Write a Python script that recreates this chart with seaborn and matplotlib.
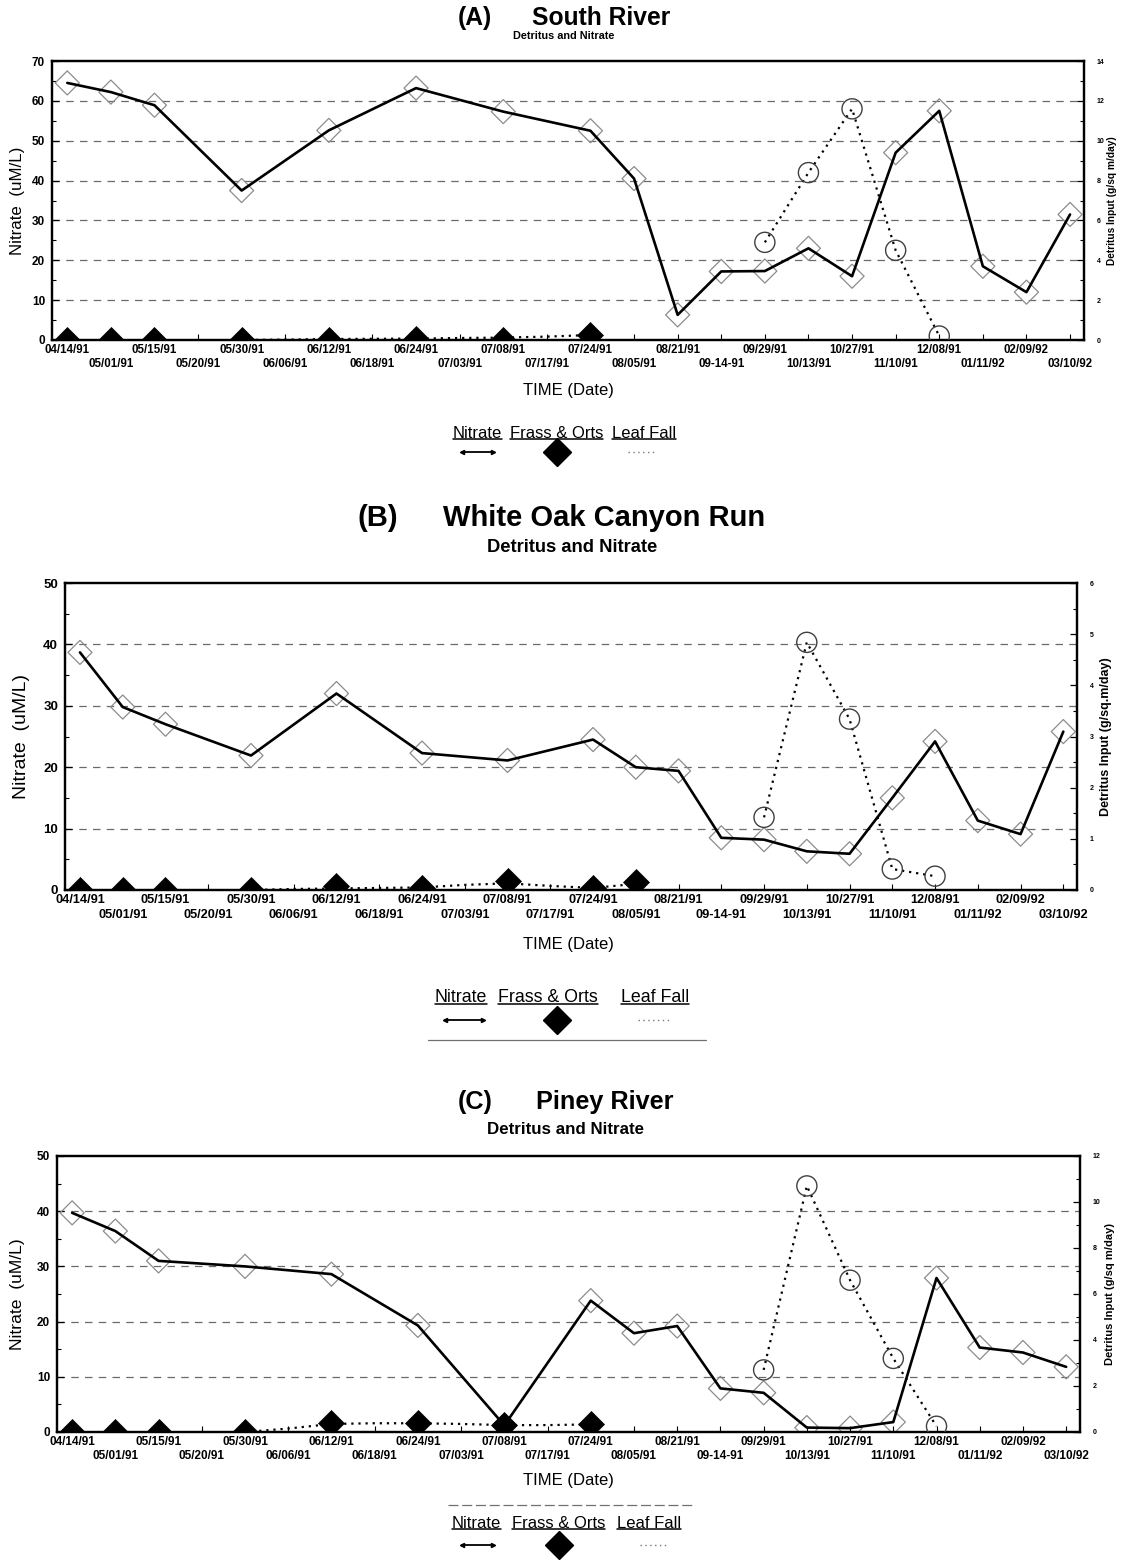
import numpy as np
import pandas as pd
import matplotlib
matplotlib.use("Agg")
import matplotlib.pyplot as plt
import seaborn as sns
from matplotlib.lines import Line2D
from matplotlib.ticker import MultipleLocator

# ---------------- data ----------------
dates = ["04/14/91", "05/01/91", "05/15/91", "05/20/91", "05/30/91", "06/06/91",
         "06/12/91", "06/18/91", "06/24/91", "07/03/91", "07/08/91", "07/17/91",
         "07/24/91", "08/05/91", "08/21/91", "09-14-91", "09/29/91", "10/13/91",
         "10/27/91", "11/10/91", "12/08/91", "01/11/92", "02/09/92", "03/10/92"]
N = None

# (A) South River
nitrate_a = [64.5, 62.2, 58.9, N, 37.5, N, 52.6, N, 63.2, N, 57.3, N,
             52.5, 40.5, 6.3, 17.2, 17.3, 23.0, 16.0, 47.0, 57.5, 18.5, 12.0, 31.5]
frass_a = [0, 0, 0, N, 0, N, 0, N, 0.05, N, 0, N, 0.25,
           N, N, N, N, N, N, N, N, N, N, N]
leaf_a = [N, N, N, N, 0.0, 0.02, 0.05, 0.06, 0.07, 0.1, 0.12, 0.17, 0.25,
          N, N, N, 4.9, 8.4, 11.6, 4.5, 0.2, N, N, N]

# (B) White Oak Canyon Run
nitrate_b = [38.7, 29.8, 27.0, N, 21.9, N, 32.0, N, 22.3, N, 21.1, N,
             24.5, 20.0, 19.4, 8.5, 8.2, 6.3, 5.9, 15.0, 24.2, 11.3, 9.1, 25.8]
frass_b = [0, 0, 0, N, 0, N, 0.08, N, 0.03, N, 0.18, N, 0.04, 0.16,
           N, N, N, N, N, N, N, N, N, N]
leaf_b = [N, N, N, N, 0.0, 0.02, 0.03, 0.04, 0.05, 0.1, 0.13, 0.08, 0.04, 0.12,
          N, N, 1.42, 4.84, 3.34, 0.41, 0.27, N, N, N]

# (C) Piney River
nitrate_c = [39.7, 36.4, 31.0, N, 30.0, N, 28.6, N, 19.3, N, 1.2, N,
             23.8, 17.9, 19.2, 7.9, 7.1, 0.8, 0.7, 1.8, 27.9, 15.3, 14.4, 11.8]
frass_c = [0, 0, 0, N, 0, N, 0.4, N, 0.4, N, 0.3, N, 0.36,
           N, N, N, N, N, N, N, N, N, N, N]
leaf_c = [N, N, N, N, 0.0, 0.15, 0.35, 0.38, 0.38, 0.35, 0.3, 0.3, 0.33,
          N, N, N, 2.7, 10.7, 6.6, 3.2, 0.25, N, N, N]

legend_labels = ["Nitrate", "Frass & Orts", "Leaf Fall"]

# ---------------- figure ----------------
sns.set_theme(style="white")
plt.rcParams['font.family'] = ['Liberation Sans', 'DejaVu Sans']
plt.rcParams['text.color'] = 'black'
plt.rcParams['axes.labelcolor'] = 'black'
plt.rcParams['xtick.color'] = 'black'
plt.rcParams['ytick.color'] = 'black'

W, H = 1126, 1561
fig = plt.figure(figsize=(W / 100, H / 100), dpi=100)
fig.patch.set_facecolor("white")


def fx(x):
    return x / W


def fy(y):
    return 1 - y / H


def segments(vals):
    segs, cur = [], []
    for i, v in enumerate(vals):
        if v is None:
            if cur:
                segs.append(cur)
                cur = []
        else:
            cur.append((i, v))
    if cur:
        segs.append(cur)
    return segs


underline_texts = []


def draw_panel(c):
    l, t, r, b = c["box"]
    ax = fig.add_axes([fx(l), fy(b), (r - l) / W, (b - t) / H])
    ax2 = ax.twinx()
    x = np.arange(len(dates))

    # grid
    for v in range(c["lstep"], c["lmax"], c["lstep"]):
        ax.axhline(v, color="#6a6a6a", lw=0.9, ls=(0, (6, 5)), zorder=0)

    # nitrate
    dfn = pd.DataFrame({"x": x, "nitrate": c["nit"]}).dropna()
    sns.lineplot(data=dfn, x="x", y="nitrate", ax=ax, color="black", lw=1.9,
                 sort=False, estimator=None, legend=False, zorder=5)
    sns.scatterplot(data=dfn, x="x", y="nitrate", ax=ax, marker="D", s=150,
                    facecolor="none", edgecolor="#8c8c8c", linewidth=0.9,
                    legend=False, zorder=4)

    # frass & orts
    dff = pd.DataFrame({"x": x, "frass": c["frass"]}).dropna()
    sns.scatterplot(data=dff, x="x", y="frass", ax=ax2, marker="D", s=175,
                    color="black", edgecolor="black", linewidth=0.5,
                    legend=False, zorder=6)

    # leaf fall
    for seg in segments(c["leaf"]):
        dfl = pd.DataFrame(seg, columns=["x", "leaf"])
        sns.lineplot(data=dfl, x="x", y="leaf", ax=ax2, color="black", lw=1.6,
                     linestyle=(0, (1, 2.2)), sort=False, estimator=None,
                     legend=False, zorder=5)
        if dfl["leaf"].max() > 1:
            sns.scatterplot(data=dfl, x="x", y="leaf", ax=ax2, marker="o", s=210,
                            facecolor="none", edgecolor="#404040", linewidth=1.0,
                            legend=False, zorder=5)

    ax.set_xlim(-0.35, len(dates) - 0.68)
    ax.set_ylim(0, c["lmax"])
    ax2.set_ylim(0, c["rmax"])
    ax.set_xlabel("")
    ax.set_ylabel("")
    ax2.set_ylabel("")

    # x ticks, staggered in two rows (even -> upper row, odd -> lower row)
    ev = [i for i in x if i % 2 == 0]
    od = [i for i in x if i % 2 == 1]
    ax.set_xticks(ev, [dates[i] for i in ev])
    ax.set_xticks(od, [dates[i] for i in od], minor=True)
    for tl in ax.get_xticklabels(minor=False) + ax.get_xticklabels(minor=True):
        tl.set_fontsize(c["xfs"])
        tl.set_fontweight("bold")
    ax.tick_params(axis="x", which="major", direction="in", length=4, width=0.8,
                   pad=3, colors="black", bottom=True)
    ax.tick_params(axis="x", which="minor", direction="in", length=4, width=0.8,
                   pad=3 + c["row_gap"], colors="black", bottom=True)

    ax.yaxis.set_major_locator(MultipleLocator(c["lstep"]))
    ax.yaxis.set_minor_locator(MultipleLocator(c["lstep"] / 2))
    ax.tick_params(axis="y", which="major", direction="in", length=5, width=0.9,
                   labelsize=c["lfs"], pad=5, colors="black", left=True)
    ax.tick_params(axis="y", which="minor", direction="in", length=3, width=0.8,
                   left=True)
    for tl in ax.get_yticklabels():
        tl.set_fontweight("bold")

    ax2.yaxis.set_major_locator(MultipleLocator(c["rstep"]))
    ax2.yaxis.set_minor_locator(MultipleLocator(c["rstep"] / 2))
    ax2.tick_params(axis="y", which="major", direction="in", length=5, width=0.9,
                    labelsize=c["rfs"], pad=9, colors="black", right=True)
    ax2.tick_params(axis="y", which="minor", direction="in", length=3, width=0.8,
                    right=True)
    for tl in ax2.get_yticklabels():
        tl.set_fontweight("bold")

    for a in (ax, ax2):
        for s in a.spines.values():
            s.set_color("black")
            s.set_linewidth(1.6)
    ax.grid(False)
    ax2.grid(False)

    # texts
    ty = c["title_y"]
    fig.text(fx(c["tag_right"]), fy(ty), c["tag"], ha="right", va="center",
             fontsize=c["tfs"], fontweight="bold", color="black")
    fig.text(fx(c["name_left"]), fy(ty), c["name"], ha="left", va="center",
             fontsize=c["tfs"], fontweight="bold", color="black")
    fig.text(fx(c["sub_x"]), fy(c["sub_y"]), "Detritus and Nitrate", ha="center",
             va="center", fontsize=c["sfs"], fontweight="bold", color="black")
    fig.text(fx(c["time_x"]), fy(c["time_y"]), "TIME (Date)", ha="center",
             va="center", fontsize=12, color="black")
    fig.text(fx(c["ylab_x"]), fy((t + b) / 2), "Nitrate  (uM/L)", rotation=90,
             ha="center", va="center", fontsize=c["ylfs"], color="black")
    fig.text(fx(c["rlab_x"]), fy((t + b) / 2), c["rlab"], rotation=90,
             ha="center", va="center", fontsize=c["rlfs"], fontweight="bold",
             color="black")

    # legend
    lt = c["leg_y"]
    for xs, lab in zip(c["leg_x"], legend_labels):
        tx = fig.text(fx(xs), fy(lt), lab, ha="left", va="center",
                      fontsize=c["legfs"], color="black")
        underline_texts.append(tx)
    sy = c["sym_y"]
    x0, x1 = c["nit_sym"]
    fig.add_artist(Line2D([fx(x0), fx(x1)], [fy(sy), fy(sy)], color="black",
                          lw=1.3, transform=fig.transFigure))
    fig.add_artist(Line2D([fx(x0)], [fy(sy)], marker="<", ms=3, color="black",
                          transform=fig.transFigure))
    fig.add_artist(Line2D([fx(x1)], [fy(sy)], marker=">", ms=3, color="black",
                          transform=fig.transFigure))
    fig.add_artist(Line2D([fx(c["dia_x"])], [fy(sy)], marker="D", ms=14.5,
                          color="black", transform=fig.transFigure))
    x0, x1 = c["leaf_sym"]
    fig.add_artist(Line2D([fx(x0), fx(x1)], [fy(sy), fy(sy)], color="#777777",
                          lw=1.0, ls=(0, (1, 2.5)), transform=fig.transFigure))
    if c.get("extra"):
        ex0, ex1, ey, ls = c["extra"]
        fig.add_artist(Line2D([fx(ex0), fx(ex1)], [fy(ey), fy(ey)],
                              color="#707070", lw=0.9, ls=ls,
                              transform=fig.transFigure))


panels = [
    dict(box=(52, 61, 1084, 340), lmax=70, lstep=10, rmax=14, rstep=2,
         nit=nitrate_a, frass=frass_a, leaf=leaf_a, row_gap=10,
         xfs=8.3, lfs=8.5, rfs=5, tag="(A)", name="South River", tag_right=492,
         name_left=532, title_y=18, tfs=17.7, sub_x=564, sub_y=36, sfs=7.8,
         time_x=568, time_y=390, ylab_x=18, ylfs=12.2,
         rlab="Detritus Input (g/sq m/day)", rlab_x=1112, rlfs=7.3,
         leg_y=433, leg_x=[453, 510, 612], legfs=12, sym_y=452,
         nit_sym=(462, 493), dia_x=557, leaf_sym=(628, 655), extra=None),
    dict(box=(65, 583, 1077, 890), lmax=50, lstep=10, rmax=6, rstep=1,
         nit=nitrate_b, frass=frass_b, leaf=leaf_b, row_gap=10.5,
         xfs=9.2, lfs=9.5, rfs=5, tag="(B)", name="White Oak Canyon Run",
         tag_right=398, name_left=443, title_y=518, tfs=21, sub_x=572,
         sub_y=548, sfs=13.2, time_x=568, time_y=944, ylab_x=22, ylfs=14,
         rlab="Detritus Input (g/sq.m/day)", rlab_x=1106, rlfs=9,
         leg_y=997, leg_x=[435, 498, 621], legfs=12.8, sym_y=1020,
         nit_sym=(445, 483), dia_x=557, leaf_sym=(638, 672),
         extra=(428, 706, 1040, "-")),
    dict(box=(57, 1156, 1080, 1432), lmax=50, lstep=10, rmax=12, rstep=2,
         nit=nitrate_c, frass=frass_c, leaf=leaf_c, row_gap=10,
         xfs=8.5, lfs=8.5, rfs=5, tag="(C)", name="Piney River", tag_right=493,
         name_left=536, title_y=1102, tfs=18.2, sub_x=566, sub_y=1130, sfs=12.2,
         time_x=568, time_y=1481, ylab_x=18, ylfs=12.6,
         rlab="Detritus Input (g/sq m/day)", rlab_x=1110, rlfs=8,
         leg_y=1523, leg_x=[452, 512, 617], legfs=12, sym_y=1545,
         nit_sym=(462, 493), dia_x=559, leaf_sym=(640, 667),
         extra=(448, 693, 1505, (0, (8, 3)))),
]

for p in panels:
    draw_panel(p)

# underline legend labels
fig.canvas.draw()
renderer = fig.canvas.get_renderer()
for tx in underline_texts:
    bb = tx.get_window_extent(renderer)
    yline = bb.y0 + 2.0
    fig.add_artist(Line2D([bb.x0 / W, bb.x1 / W], [yline / H, yline / H],
                          color="black", lw=1.1, transform=fig.transFigure))

fig.savefig("out.png", dpi=100, facecolor="white")
